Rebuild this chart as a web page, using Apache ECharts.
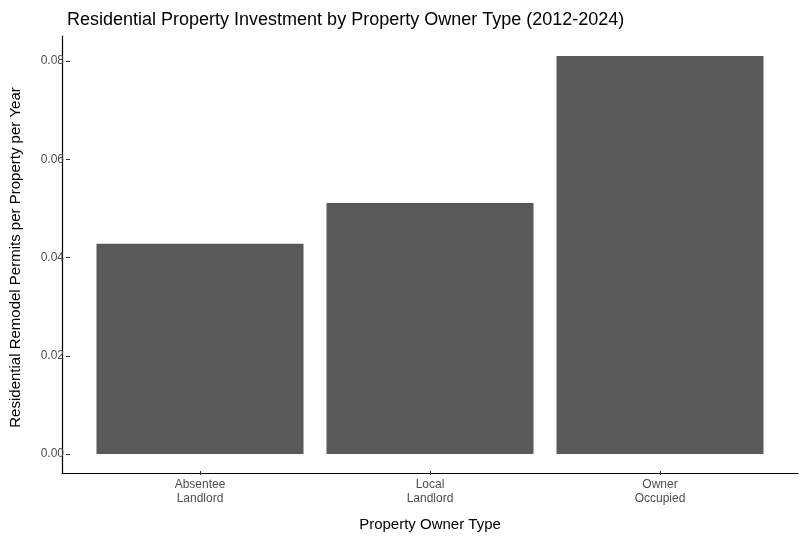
<!DOCTYPE html>
<html><head><meta charset="utf-8">
<script src="https://cdn.jsdelivr.net/npm/echarts@6/dist/echarts.min.js"></script>
<style>html,body{margin:0;padding:0;background:#fff}#container{width:806px;height:537px}</style>
</head><body><div id="container"></div>
<script>
var categories = ['Absentee\nLandlord', 'Local\nLandlord', 'Owner\nOccupied'];
var permitRates = [0.0428, 0.0511, 0.081];
var yTicks = [0, 0.02, 0.04, 0.06, 0.08];

var myChart = echarts.init(document.getElementById('container'));
var font = 'Liberation Sans, Arial, sans-serif';
var hidden = { show: false };

var option = {
    animation: false,
    textStyle: { fontFamily: font },
    title: {
        text: 'Residential Property Investment by Property Owner Type (2012-2024)',
        left: 62, top: 6,
        textStyle: { fontSize: 18, fontWeight: 'normal', color: '#000', fontFamily: font }
    },
    grid: [
        { left: 62, right: 8, top: 36, bottom: 64 },
        { left: 62, right: 8, top: 61, bottom: 83 },
        { left: 85, right: 31, top: 61, bottom: 83 },
        { left: 85, right: 31, top: 36, bottom: 64 }
    ],
    xAxis: [
        { gridIndex: 0, type: 'value', min: 0, max: 1, axisLine: { show: true, lineStyle: { color: '#000', width: 1.2 } },
          axisTick: hidden, axisLabel: hidden, splitLine: hidden },
        { gridIndex: 1, type: 'value', show: false },
        { gridIndex: 2, type: 'category', data: categories, show: false },
        { gridIndex: 3, type: 'category', data: categories,
          axisLine: hidden, splitLine: hidden,
          axisTick: { show: true, alignWithLabel: true, length: 4, lineStyle: { color: '#333' } },
          axisLabel: { color: '#4d4d4d', fontSize: 12, margin: 7, lineHeight: 14 },
          name: 'Property Owner Type', nameLocation: 'middle', nameGap: 46,
          nameTextStyle: { fontSize: 15, color: '#000' } }
    ],
    yAxis: [
        { gridIndex: 0, type: 'value', min: 0, max: 1, axisLine: { show: true, lineStyle: { color: '#000', width: 1.2 } },
          axisTick: hidden, axisLabel: hidden, splitLine: hidden },
        { gridIndex: 1, type: 'value', min: yTicks[0], max: yTicks[yTicks.length - 1], interval: 0.02,
          axisLine: hidden, splitLine: hidden,
          axisTick: { show: true, length: 4, lineStyle: { color: '#333' } },
          axisLabel: { color: '#4d4d4d', fontSize: 12, margin: 6, formatter: function (v) { return v.toFixed(2); } },
          name: 'Residential Remodel Permits per Property per Year', nameLocation: 'middle', nameGap: 47,
          nameTextStyle: { fontSize: 15, color: '#000' } },
        { gridIndex: 2, type: 'value', min: 0, max: 0.08, show: false },
        { gridIndex: 3, type: 'value', show: false }
    ],
    series: [{
        type: 'bar', xAxisIndex: 2, yAxisIndex: 2,
        data: permitRates, barWidth: '90%', clip: false,
        itemStyle: { color: '#595959' }
    }]
};
myChart.setOption(option);
</script></body></html>
